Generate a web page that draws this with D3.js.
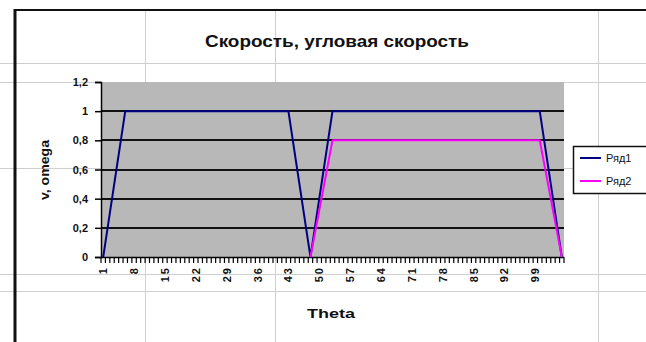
<!DOCTYPE html>
<html><head><meta charset="utf-8">
<script src="https://cdn.jsdelivr.net/npm/d3@7"></script>
<style>
html,body{margin:0;padding:0;background:#fff;}
svg{display:block;font-family:"Liberation Sans",Arial,sans-serif;}
</style></head>
<body><svg id="c" width="646" height="342"></svg>
<script>
// ---- data ----
const title = "Скорость, угловая скорость";
const xTitle = "Theta";
const yTitle = "v, omega";
const seriesNames = ["Ряд1", "Ряд2"];
const categories = d3.range(1, 106); // 1..105
const ryad1 = [
  0, 0.2, 0.4, 0.6, 0.8, 1, 1, 1, 1, 1,
  1, 1, 1, 1, 1, 1, 1, 1, 1, 1,
  1, 1, 1, 1, 1, 1, 1, 1, 1, 1,
  1, 1, 1, 1, 1, 1, 1, 1, 1, 1,
  1, 1, 1, 0.8, 0.6, 0.4, 0.2, 0, 0.2, 0.4,
  0.6, 0.8, 1, 1, 1, 1, 1, 1, 1, 1,
  1, 1, 1, 1, 1, 1, 1, 1, 1, 1,
  1, 1, 1, 1, 1, 1, 1, 1, 1, 1,
  1, 1, 1, 1, 1, 1, 1, 1, 1, 1,
  1, 1, 1, 1, 1, 1, 1, 1, 1, 1,
  0.8, 0.6, 0.4, 0.2, 0
];
const ryad2 = [
  null, null, null, null, null, null, null, null, null, null,
  null, null, null, null, null, null, null, null, null, null,
  null, null, null, null, null, null, null, null, null, null,
  null, null, null, null, null, null, null, null, null, null,
  null, null, null, null, null, null, null, 0, 0.16, 0.32,
  0.48, 0.64, 0.8, 0.8, 0.8, 0.8, 0.8, 0.8, 0.8, 0.8,
  0.8, 0.8, 0.8, 0.8, 0.8, 0.8, 0.8, 0.8, 0.8, 0.8,
  0.8, 0.8, 0.8, 0.8, 0.8, 0.8, 0.8, 0.8, 0.8, 0.8,
  0.8, 0.8, 0.8, 0.8, 0.8, 0.8, 0.8, 0.8, 0.8, 0.8,
  0.8, 0.8, 0.8, 0.8, 0.8, 0.8, 0.8, 0.8, 0.8, 0.8,
  0.64, 0.48, 0.32, 0.16, 0
];
const yTicks = [0, 0.2, 0.4, 0.6, 0.8, 1, 1.2];
const xTickLabels = [1, 8, 15, 22, 29, 36, 43, 50, 57, 64, 71, 78, 85, 92, 99];
const colors = ["#000080", "#ff00ff"];

// ---- layout ----
const svg = d3.select("#c");
const W = 646, H = 342;
const P = {left: 101, right: 564, top: 82, bottom: 257};

// spreadsheet cell gridlines behind the chart
const gridC = "#cfcfcf";
const vLines = [145, 275, 598];
const hLines = [63, 82, 168, 274, 291];
svg.append("g").selectAll("line").data(vLines).join("line")
  .attr("x1", d => d + 0.5).attr("x2", d => d + 0.5).attr("y1", 10).attr("y2", H)
  .attr("stroke", gridC).attr("stroke-width", 1);
svg.append("g").selectAll("line").data(hLines).join("line")
  .attr("x1", 0).attr("x2", W).attr("y1", d => d + 0.5).attr("y2", d => d + 0.5)
  .attr("stroke", gridC).attr("stroke-width", 1);

// chart border (left thick, top)
svg.append("line").attr("x1", 15).attr("x2", 15).attr("y1", 9).attr("y2", H)
  .attr("stroke", "#111").attr("stroke-width", 3);
svg.append("line").attr("x1", 14).attr("x2", W).attr("y1", 10).attr("y2", 10)
  .attr("stroke", "#111").attr("stroke-width", 2);

// scales
const x = d3.scaleBand().domain(categories).range([P.left, P.right]).padding(0);
const cx = d => x(d) + x.bandwidth() / 2;
const y = d3.scaleLinear().domain([0, 1.2]).range([P.bottom, P.top]);

// plot area
svg.append("rect").attr("x", P.left).attr("y", P.top)
  .attr("width", P.right - P.left).attr("height", P.bottom - P.top)
  .attr("fill", "#b8b8b8");

// major gridlines
svg.append("g").selectAll("line").data(yTicks.filter(v => v > 0 && v < 1.2)).join("line")
  .attr("x1", P.left).attr("x2", P.right)
  .attr("y1", d => Math.round(y(d))).attr("y2", d => Math.round(y(d)))
  .attr("stroke", "#111").attr("stroke-width", 2);

// y axis
const yAxis = d3.axisLeft(y).tickValues(yTicks).tickSize(6).tickPadding(7)
  .tickFormat(d => d3.format("~g")(d).replace(".", ","));
const gy = svg.append("g").attr("transform", `translate(${P.left},0)`).call(yAxis);
gy.select(".domain").attr("stroke", "#000").attr("stroke-width", 1.5);
gy.selectAll(".tick line").attr("stroke", "#000").attr("stroke-width", 1.5);
gy.selectAll("text").attr("font-size", 11).attr("font-weight", "bold").attr("fill", "#111")
  .attr("font-family", "Liberation Sans, Arial, sans-serif");

// x axis: ticks at every category boundary, labels every 7th
const tickPos = categories.map(c => x(c)).concat([P.right]);
const gx = svg.append("g");
gx.append("line").attr("x1", P.left).attr("x2", P.right)
  .attr("y1", P.bottom + 0.5).attr("y2", P.bottom + 0.5).attr("stroke", "#000").attr("stroke-width", 1.5);
gx.selectAll("line").filter(function() { return false; });
gx.selectAll("line.t").data(tickPos).join("line").attr("class", "t")
  .attr("x1", d => d).attr("x2", d => d).attr("y1", P.bottom).attr("y2", P.bottom + 6)
  .attr("stroke", "#000").attr("stroke-width", 1.2);
gx.selectAll("text").data(xTickLabels).join("text")
  .attr("transform", d => `translate(${cx(d) + 4},${P.bottom + 9}) rotate(-90)`)
  .attr("text-anchor", "end").attr("font-size", 11).attr("font-weight", "bold")
  .attr("letter-spacing", 2).attr("fill", "#111").text(d => d);

// series lines
const line = d3.line().defined(d => d[1] !== null).x(d => cx(d[0])).y(d => y(d[1]));
[ryad1, ryad2].forEach((s, i) => {
  svg.append("path").datum(categories.map((c, j) => [c, s[j]]))
    .attr("d", line).attr("fill", "none").attr("stroke", colors[i])
    .attr("stroke-width", 2).attr("stroke-linejoin", "round");
});

// titles
svg.append("text").attr("x", 337).attr("y", 47).attr("text-anchor", "middle")
  .attr("font-size", 16).attr("font-weight", "bold").attr("fill", "#111")
  .attr("textLength", 264).attr("lengthAdjust", "spacingAndGlyphs").text(title);
svg.append("text").attr("x", 331).attr("y", 318).attr("text-anchor", "middle")
  .attr("font-size", 13).attr("font-weight", "bold").attr("fill", "#111")
  .attr("textLength", 48).attr("lengthAdjust", "spacingAndGlyphs").text(xTitle);
svg.append("text").attr("transform", "translate(49,170) rotate(-90)").attr("text-anchor", "middle")
  .attr("font-size", 13).attr("font-weight", "bold").attr("fill", "#111")
  .attr("textLength", 60).attr("lengthAdjust", "spacingAndGlyphs").text(yTitle);

// legend
const lg = svg.append("g");
lg.append("rect").attr("x", 573.5).attr("y", 146.5).attr("width", 90).attr("height", 47)
  .attr("fill", "#fff").attr("stroke", "#111").attr("stroke-width", 1.5);
seriesNames.forEach((n, i) => {
  const yy = 158 + i * 23;
  lg.append("line").attr("x1", 580).attr("x2", 601).attr("y1", yy).attr("y2", yy)
    .attr("stroke", colors[i]).attr("stroke-width", 2);
  lg.append("text").attr("x", 606).attr("y", yy + 4).attr("font-size", 11)
    .attr("fill", "#111").text(n);
});
</script></body></html>
